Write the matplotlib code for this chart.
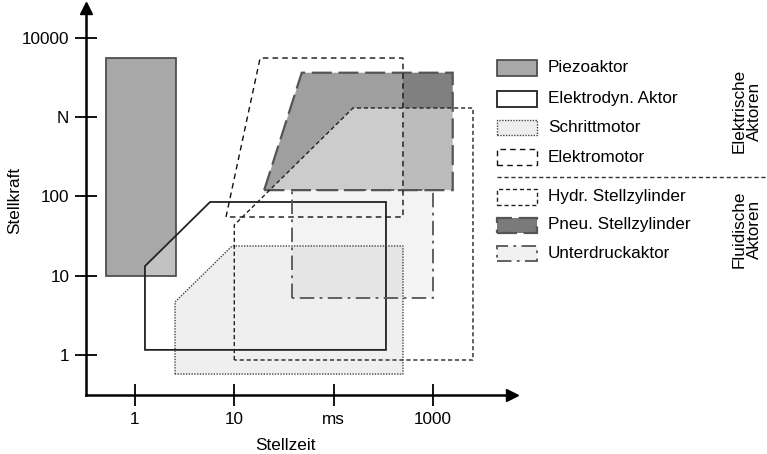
import matplotlib
matplotlib.use("Agg")
import matplotlib.pyplot as plt
from matplotlib.patches import Polygon, Rectangle
from matplotlib.lines import Line2D

plt.rcParams["font.family"] = ["Liberation Sans", "DejaVu Sans"]
plt.rcParams["font.size"] = 12.3

# Stellzeit (x) / Stellkraft (y) ranges, log-log
piezo_x = [0.51, 2.6, 2.6, 0.51]
piezo_y = [10, 10, 5600, 5600]
elektrodyn_x = [1.26, 1.26, 5.7, 337, 337]
elektrodyn_y = [1.16, 13.2, 85, 85, 1.16]
schritt_x = [2.53, 2.53, 9.5, 500, 500]
schritt_y = [0.575, 4.66, 23.7, 23.7, 0.575]
elektromotor_x = [8.25, 18.2, 500, 500]
elektromotor_y = [55, 5560, 5560, 55]
hydr_x = [10, 10, 157, 2535, 2535]
hydr_y = [0.865, 43.6, 1303, 1303, 0.865]
pneu_x = [20, 47.8, 1585, 1585]
pneu_y = [120, 3630, 3630, 120]
unterdruck_x = [38, 38, 1000, 1000]
unterdruck_y = [5.2, 120, 120, 5.2]

x_ticks = [1, 10, 100, 1000]
x_ticklabels = ["1", "10", "ms", "1000"]
y_ticks = [1, 10, 100, 1000, 10000]
y_ticklabels = ["1", "10", "100", "N", "10000"]

labels_el = ["Piezoaktor", "Elektrodyn. Aktor", "Schrittmotor", "Elektromotor"]
labels_fl = ["Hydr. Stellzylinder", "Pneu. Stellzylinder", "Unterdruckaktor"]

W, H = 767, 454
fig = plt.figure(figsize=(W / 100, H / 100), dpi=100)
ax = fig.add_axes([86 / W, 59 / H, 426 / W, 387 / H])
ax.set_xscale("log")
ax.set_yscale("log")
ax.set_xlim(0.321, 6266)
ax.set_ylim(0.313, 23770)

# name, x, y, fill colour, fill zorder, edge colour, linestyle, linewidth, legend face
shapes = [
    ("piezo", piezo_x, piezo_y, "#a8a8a8", 1, "#444444", "-", 1.2, "#a8a8a8"),
    ("elektrodyn", elektrodyn_x, elektrodyn_y, (1, 1, 1, 0.3), 2, "#222222", "-", 1.3, "white"),
    ("pneu", pneu_x, pneu_y, "#808080", 3, "#555555", (0, (9, 3)), 1.6, "#7a7a7a"),
    ("elektromotor", elektromotor_x, elektromotor_y, (1, 1, 1, 0.25), 4, "#111111", (0, (4, 3)), 1.0, "white"),
    ("hydr", hydr_x, hydr_y, (1, 1, 1, 0.48), 5, "#222222", (0, (3, 2)), 1.0, "white"),
    ("unterdruck", unterdruck_x, unterdruck_y, "#f3f3f3", 6, "#555555", (0, (8, 3, 1.5, 3)), 1.3, "#f1f1f1"),
    ("schritt", schritt_x, schritt_y, (0.63, 0.63, 0.63, 0.167), 7, "#444444", (0, (1, 1)), 1.0, "#eeeeee"),
]

style = {}
for name, xs, ys, face, z, edge, ls, lw, lface in shapes:
    pts = list(zip(xs, ys))
    ax.add_patch(Polygon(pts, closed=True, facecolor=face, edgecolor="none", zorder=z))
    ax.add_patch(Polygon(pts, closed=True, fill=False, edgecolor=edge,
                         linestyle=ls, linewidth=lw, zorder=10 + z))
    style[name] = (lface, edge, ls, lw)

# axes with arrows
for s in ["top", "right"]:
    ax.spines[s].set_visible(False)
for s in ["left", "bottom"]:
    ax.spines[s].set_linewidth(1.8)
ax.plot(1, 0, ">k", ms=8, transform=ax.transAxes, clip_on=False)
ax.plot(0, 1, "^k", ms=8, transform=ax.transAxes, clip_on=False)

ax.minorticks_off()
ax.set_xticks(x_ticks, x_ticklabels)
ax.set_yticks(y_ticks, y_ticklabels)
ax.tick_params(direction="inout", length=16, width=1.3, pad=4)

fig.text(285 / W, 1 - 445 / H, "Stellzeit", ha="center", va="center")
fig.text(15 / W, 1 - 200 / H, "Stellkraft", ha="center", va="center", rotation=90)

# legend
rows = [("piezo", 68), ("elektrodyn", 99), ("schritt", 128), ("elektromotor", 157),
        ("hydr", 197), ("pneu", 225), ("unterdruck", 253)]
for (name, yc), label in zip(rows, labels_el + labels_fl):
    lface, edge, ls, lw = style[name]
    fig.add_artist(Rectangle((497 / W, 1 - (yc + 7.5) / H), 40 / W, 15 / H,
                             transform=fig.transFigure, facecolor=lface,
                             edgecolor=edge, linestyle=ls, linewidth=lw))
    fig.text(548 / W, 1 - yc / H, label, ha="left", va="center")

fig.add_artist(Line2D([497 / W, 1], [1 - 177 / H] * 2, transform=fig.transFigure,
                      color="#333333", linestyle=(0, (3, 2)), linewidth=1.0))
fig.text(747 / W, 1 - 111 / H, "Elektrische\nAktoren", ha="center", va="center",
         rotation=90, multialignment="center", linespacing=1.0)
fig.text(747 / W, 1 - 229 / H, "Fluidische\nAktoren", ha="center", va="center",
         rotation=90, multialignment="center", linespacing=1.0)

fig.savefig("out.png", dpi=100)
